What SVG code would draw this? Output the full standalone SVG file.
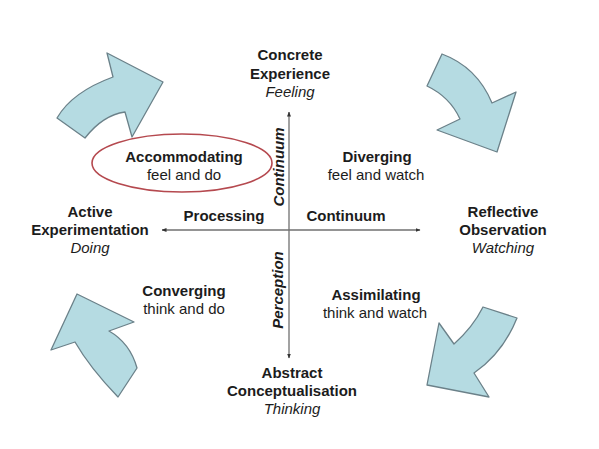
<svg xmlns="http://www.w3.org/2000/svg" width="599" height="449" viewBox="0 0 599 449">
<style>
.b{font-family:"Liberation Sans",Arial,sans-serif;font-size:15px;font-weight:bold;fill:#1c1c1c;text-anchor:middle}
.r{font-family:"Liberation Sans",Arial,sans-serif;font-size:15px;fill:#1c1c1c;text-anchor:middle}
.i{font-family:"Liberation Sans",Arial,sans-serif;font-size:15px;font-style:italic;fill:#1c1c1c;text-anchor:middle}
.bi{font-family:"Liberation Sans",Arial,sans-serif;font-size:15px;font-weight:bold;font-style:italic;fill:#1c1c1c;text-anchor:middle}
.arr{fill:#b5dbe2;stroke:#6b8189;stroke-width:1.3;stroke-linejoin:round}
.ax{stroke:#707070;stroke-width:1.3;fill:none}
</style>
<defs>
<marker id="ah" viewBox="0 0 10 10" refX="9" refY="5" markerWidth="5" markerHeight="5" orient="auto" markerUnits="userSpaceOnUse">
<path d="M0,1 L10,5 L0,9 Z" fill="#333"/>
</marker>
</defs>
<rect width="599" height="449" fill="#ffffff"/>
<g id="arrow-top-left"><path class="arr" d="M57,118 Q72,92 113,77 L107,53 L163,82 L132,137 L125,112 Q103,115 85,138 Z"/></g>
<g id="arrow-top-right"><path class="arr" d="M442,54 Q477,67 492,103 L516,92 L497,152 L437,130 L460,119 Q450,97 427,86 Z"/></g>
<g id="arrow-bottom-left"><path class="arr" d="M77,294 L134,322 L109,331 Q130,343 137,368 L118,397 Q90,368 75,342 L51,350 Z"/></g>
<g id="arrow-bottom-right"><path class="arr" d="M483,307 L517,318 Q503,353 474,373 L489,397 L427,385 L439,323 L454,344 Q473,327 483,307 Z"/></g>
<g id="connectors">
<line class="ax" x1="289" y1="230" x2="289" y2="112" marker-end="url(#ah)"/>
<line class="ax" x1="289" y1="230" x2="289" y2="358" marker-end="url(#ah)"/>
<line class="ax" x1="289" y1="230" x2="162" y2="230" marker-end="url(#ah)"/>
<line class="ax" x1="289" y1="230" x2="420" y2="230" marker-end="url(#ah)"/>
</g>
<g id="concrete-experience"><text class="b" x="290" y="60">Concrete</text><text class="b" x="290" y="79">Experience</text><text class="i" x="290" y="97">Feeling</text></g>
<g id="abstract-conceptualisation"><text class="b" x="292" y="378">Abstract</text><text class="b" x="292" y="396">Conceptualisation</text><text class="i" x="292" y="414">Thinking</text></g>
<g id="active-experimentation"><text class="b" x="90" y="217">Active</text><text class="b" x="90" y="235">Experimentation</text><text class="i" x="90" y="253">Doing</text></g>
<g id="reflective-observation"><text class="b" x="503" y="217">Reflective</text><text class="b" x="503" y="235">Observation</text><text class="i" x="503" y="253">Watching</text></g>
<g id="accommodating"><ellipse cx="182" cy="163" rx="90" ry="29" fill="none" stroke="#b5494f" stroke-width="1.6"/><text class="b" x="184" y="162">Accommodating</text><text class="r" x="184" y="180">feel and do</text></g>
<g id="diverging"><text class="b" x="377" y="162">Diverging</text><text class="r" x="376" y="180">feel and watch</text></g>
<g id="converging"><text class="b" x="184" y="296">Converging</text><text class="r" x="184" y="314">think and do</text></g>
<g id="assimilating"><text class="b" x="376" y="300">Assimilating</text><text class="r" x="375" y="318">think and watch</text></g>
<g id="axis-labels">
<text class="b" x="224" y="221">Processing</text>
<text class="b" x="346" y="221">Continuum</text>
<text class="bi" transform="translate(284,167) rotate(-90)">Continuum</text>
<text class="bi" transform="translate(283,290) rotate(-90)">Perception</text>
</g>
</svg>
